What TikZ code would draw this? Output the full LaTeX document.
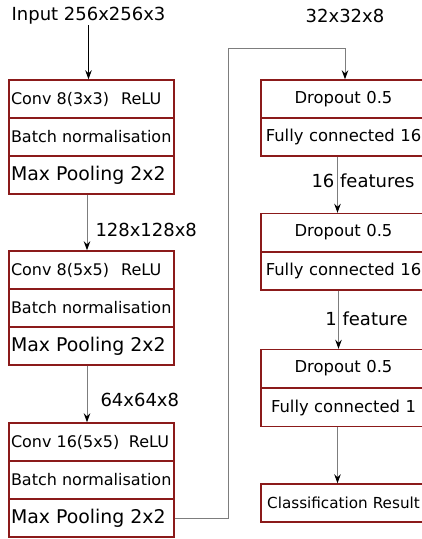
\documentclass[tikz,border=0pt]{standalone}
\usepackage{fontspec}
\setmainfont{DejaVu Sans}
\usetikzlibrary{arrows.meta}
\definecolor{boxred}{RGB}{139,26,26}
\definecolor{linegray}{RGB}{125,125,125}

\begin{document}
\begin{tikzpicture}[x = 1pt, y = -1pt, line width = 1pt,
    row/.style = {draw = boxred, line width = 1.4pt, minimum width = 165pt,
        minimum height = 38pt, inner sep = 0pt, font = \fontsize{16}{18}\selectfont},
    lrow/.style = {row, text width = 161pt, align = flush left},
    crow/.style = {row, text width = 165pt, align = center, font = \fontsize{16.4}{18}\selectfont},
    big/.style = {font = \fontsize{18.9}{21}\selectfont},
    lab/.style = {inner sep = 0pt, font = \fontsize{18}{21}\selectfont},
    arr/.style = {draw = linegray, -{Stealth[black, length = 9pt, width = 6.5pt]}}]
\useasboundingbox (0,0) rectangle (422,539);
% left column
\draw (91.5,99) node[lrow](a1){Conv 8(3x3)\hspace{0.75em}ReLU}
    (91.5,137) node[lrow](a2){Batch normalisation}
    (91.5,175) node[lrow, big](a3){Max Pooling 2x2}
    (91.5,270) node[lrow](b1){Conv 8(5x5)\hspace{0.75em}ReLU}
    (91.5,308) node[lrow](b2){Batch normalisation}
    (91.5,346) node[lrow, big](b3){Max Pooling 2x2}
    (91.5,442) node[lrow](c1){Conv 16(5x5)\hspace{0.6em}ReLU}
    (91.5,480) node[lrow](c2){Batch normalisation}
    (91.5,518) node[lrow, big](c3){Max Pooling 2x2};
% right column
\draw (343.5,99) node[crow](d1){Dropout 0.5}
    (343.5,137) node[crow](d2){Fully connected 16}
    (343.5,232.5) node[crow](e1){Dropout 0.5}
    (343.5,271) node[crow](e2){Fully connected 16}
    (343.5,368.5) node[crow](f1){Dropout 0.5}
    (343.5,407.5) node[crow](f2){Fully connected 1}
    (343.5,503) node[crow, font = \fontsize{15.2}{18}\selectfont](g){Classification Result};
% labels
\draw (88.5,16) node[lab](l0){Input 256x256x3}
    (95,230) node[lab, anchor = west](l1){128x128x8}
    (100,400) node[lab, anchor = west](l2){64x64x8}
    (345,16) node[lab](l3){32x32x8}
    (363,181) node[lab](l4){16 features}
    (366.5,319) node[lab](l5){1 feature};
\coordinate (bend) at (228,48);
% connectors
\draw [arr, draw = black] (l0.south) -- (l0.south |- a1.north);
\draw [arr] ([xshift = -4.5pt]a3.south) -- ([xshift = -4.5pt]b1.north);
\draw [arr] ([xshift = -4.5pt]b3.south) -- ([xshift = -4.5pt]c1.north);
\draw [arr] (c3.east) -| (bend) -| ([xshift = 1.5pt]d1.north);
\draw [arr] ([xshift = -6pt]d2.south) -- ([xshift = -6pt]e1.north);
\draw [arr] ([xshift = -5pt]e2.south) -- ([xshift = -5pt]f1.north);
\draw [arr] ([xshift = -6pt]f2.south) -- ([xshift = -6pt]g.north);
\end{tikzpicture}
\end{document}
